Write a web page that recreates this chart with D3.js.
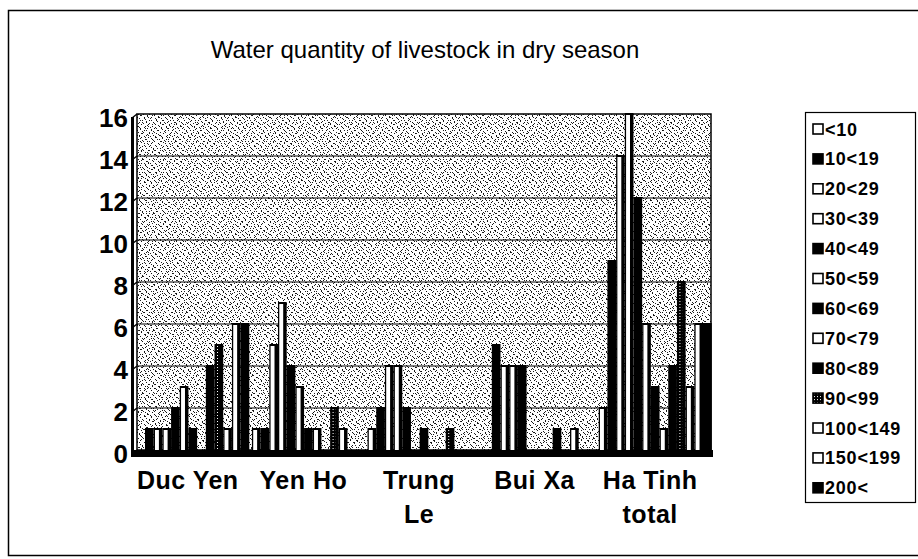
<!DOCTYPE html>
<html>
<head>
<meta charset="utf-8">
<script src="https://cdn.jsdelivr.net/npm/d3@7"></script>
<style>
  body { margin: 0; background: #fff; }
  svg { display: block; }
  text { font-family: "Liberation Sans", Arial, sans-serif; fill: #000; }
</style>
</head>
<body>
<svg id="chart" width="918" height="559"></svg>
<script>
// villages (x categories) and their wrapped tick labels
var villages = ["Duc Yen", "Yen Ho", "Trung Le", "Bui Xa", "Ha Tinh total"];
var villageLines = [["Duc Yen"], ["Yen Ho"], ["Trung", "Le"], ["Bui Xa"], ["Ha Tinh", "total"]];

// water quantity classes (series)
var classes = ["<10", "10<19", "20<29", "30<39", "40<49", "50<59", "60<69",
               "70<79", "80<89", "90<99", "100<149", "150<199", "200<"];
var classFill = ["#fff", "#000", "#fff", "#fff", "#000", "#fff", "#000",
                 "#fff", "#000", "url(#dots)", "#fff", "#fff", "#000"];

// counts per class, one array per village
var ducYen  = [0, 1, 1, 1, 2, 3, 1, 0, 4, 5, 1, 6, 6];
var yenHo   = [1, 1, 5, 7, 4, 3, 1, 1, 0, 2, 1, 0, 0];
var trungLe = [1, 2, 4, 4, 2, 0, 1, 0, 0, 1, 0, 0, 0];
var buiXa   = [0, 5, 4, 4, 4, 0, 0, 0, 1, 0, 1, 0, 0];
var haTinh  = [2, 9, 14, 16, 12, 6, 3, 1, 4, 8, 3, 6, 6];
var counts = [ducYen, yenHo, trungLe, buiXa, haTinh];

var yTicks = [0, 2, 4, 6, 8, 10, 12, 14, 16];

var svg = d3.select("#chart");
var defs = svg.append("defs");

// speckled wall texture
var stip = defs.append("pattern").attr("id", "stip")
    .attr("patternUnits", "userSpaceOnUse").attr("width", 11).attr("height", 9);
stip.append("rect").attr("width", 11).attr("height", 9).attr("fill", "#fff");
[[1,1],[5,0],[8,3],[3,4],[9,7],[0,6],[6,6],[4,8],[2,2],[7,1],[10,5]].forEach(function (p) {
    stip.append("rect").attr("x", p[0]).attr("y", p[1]).attr("width", 1).attr("height", 1).attr("fill", "#222");
});
var stip2 = defs.append("pattern").attr("id", "stip2")
    .attr("patternUnits", "userSpaceOnUse").attr("width", 7).attr("height", 13);
[[2,3],[5,9],[0,11],[4,0],[6,5],[1,7]].forEach(function (p) {
    stip2.append("rect").attr("x", p[0]).attr("y", p[1]).attr("width", 1).attr("height", 1).attr("fill", "#111");
});

var dots = defs.append("pattern").attr("id", "dots")
    .attr("patternUnits", "userSpaceOnUse").attr("width", 3).attr("height", 3);
dots.append("rect").attr("width", 3).attr("height", 3).attr("fill", "#000");
dots.append("rect").attr("x", 1).attr("y", 1).attr("width", 1).attr("height", 1).attr("fill", "#fff");

// outer frame
svg.append("rect")
    .attr("x", 8.5).attr("y", 10.5).attr("width", 912).attr("height", 545)
    .attr("fill", "none").attr("stroke", "#000").attr("stroke-width", 1.5);

// title
svg.append("text")
    .attr("x", 425).attr("y", 58)
    .attr("text-anchor", "middle")
    .style("font-size", "24px")
    .text("Water quantity of livestock in dry season");

var x0 = d3.scaleBand().domain(villages).range([135, 713]);
var x1 = d3.scaleBand().domain(classes).range([0, x0.bandwidth()]).paddingOuter(0.15);
var y = d3.scaleLinear().domain([0, 16]).range([450, 114]);

var wallL = 137, wallR = 711;

// back wall
svg.append("rect")
    .attr("x", wallL).attr("y", y(16))
    .attr("width", wallR - wallL).attr("height", y(0) - y(16))
    .attr("fill", "url(#stip)");
svg.append("rect")
    .attr("x", wallL).attr("y", y(16))
    .attr("width", wallR - wallL).attr("height", y(0) - y(16))
    .attr("fill", "url(#stip2)")
    .attr("stroke", "#000").attr("stroke-width", 1.5);

// gridlines
svg.append("g").selectAll("line")
    .data(yTicks.slice(1, -1))
    .enter().append("line")
    .attr("x1", wallL).attr("x2", wallR)
    .attr("y1", function (d) { return y(d); })
    .attr("y2", function (d) { return y(d); })
    .attr("stroke", "#000").attr("stroke-width", 1.2);

// side wall / axis
svg.append("rect")
    .attr("x", 131).attr("y", y(16) + 3)
    .attr("width", 3).attr("height", y(0) - y(16) + 4)
    .attr("fill", "#000");
svg.append("g").selectAll("line")
    .data(yTicks)
    .enter().append("line")
    .attr("x1", 132).attr("x2", wallL)
    .attr("y1", function (d) { return y(d) + 4; })
    .attr("y2", function (d) { return y(d); })
    .attr("stroke", "#000").attr("stroke-width", 1.5);

// bars
var groups = svg.append("g").selectAll("g")
    .data(villages)
    .enter().append("g")
    .attr("transform", function (d) { return "translate(" + x0(d) + ",0)"; });

groups.each(function (v, gi) {
    var g = d3.select(this);
    var rows = classes.map(function (c, i) { return {cls: c, fill: classFill[i], value: counts[gi][i]}; })
        .filter(function (d) { return d.value > 0; });
    g.selectAll("rect.side")
        .data(rows)
        .enter().append("rect")
        .attr("class", "side")
        .attr("x", function (d) { return x1(d.cls); })
        .attr("y", function (d) { return y(d.value) - 1; })
        .attr("width", x1.bandwidth())
        .attr("height", function (d) { return y(0) - y(d.value) + 1; })
        .attr("fill", "#000");
    g.selectAll("rect.front")
        .data(rows.filter(function (d) { return d.fill !== "#000"; }))
        .enter().append("rect")
        .attr("class", "front")
        .attr("x", function (d) { return x1(d.cls) + 1.3; })
        .attr("y", function (d) { return y(d.value) + 1; })
        .attr("width", x1.bandwidth() * 0.45)
        .attr("height", function (d) { return y(0) - y(d.value) - 1; })
        .attr("fill", function (d) { return d.fill; });
});

// floor
svg.append("rect")
    .attr("x", 131).attr("y", y(0))
    .attr("width", wallR + 2 - 131).attr("height", 7)
    .attr("fill", "#000");

// y tick labels
svg.append("g").selectAll("text")
    .data(yTicks)
    .enter().append("text")
    .attr("x", 128)
    .attr("y", function (d) { return y(d) + 13; })
    .attr("text-anchor", "end")
    .style("font-size", "26px").style("font-weight", "bold")
    .text(function (d) { return d; });

// x tick labels
svg.append("g").selectAll("text")
    .data(villages)
    .enter().append("text")
    .attr("x", function (d) { return x0(d) + x0.bandwidth() / 2 - 5; })
    .attr("y", 489)
    .attr("text-anchor", "middle")
    .style("font-size", "25px").style("font-weight", "bold")
    .style("letter-spacing", "0.5px")
    .each(function (d, i) {
        var t = d3.select(this);
        villageLines[i].forEach(function (line, k) {
            t.append("tspan")
                .attr("x", x0(d) + x0.bandwidth() / 2 - 5)
                .attr("dy", k === 0 ? 0 : 34)
                .text(line);
        });
    });

// legend
svg.append("rect")
    .attr("x", 805.5).attr("y", 112.5).attr("width", 110).attr("height", 390)
    .attr("fill", "#fff").attr("stroke", "#000").attr("stroke-width", 1.2);

var legend = svg.append("g").selectAll("g")
    .data(classes)
    .enter().append("g")
    .attr("transform", function (d, i) { return "translate(813," + (129 + i * 29.9) + ")"; });
legend.append("rect")
    .attr("x", 0).attr("y", -5).attr("width", 10).attr("height", 10)
    .attr("fill", function (d, i) { return classFill[i]; })
    .attr("stroke", "#000").attr("stroke-width", 1.6);
legend.append("text")
    .attr("x", 12).attr("y", 6.5)
    .style("font-size", "18px").style("font-weight", "bold")
    .style("letter-spacing", "0.8px")
    .text(function (d) { return d; });
</script>
</body>
</html>
